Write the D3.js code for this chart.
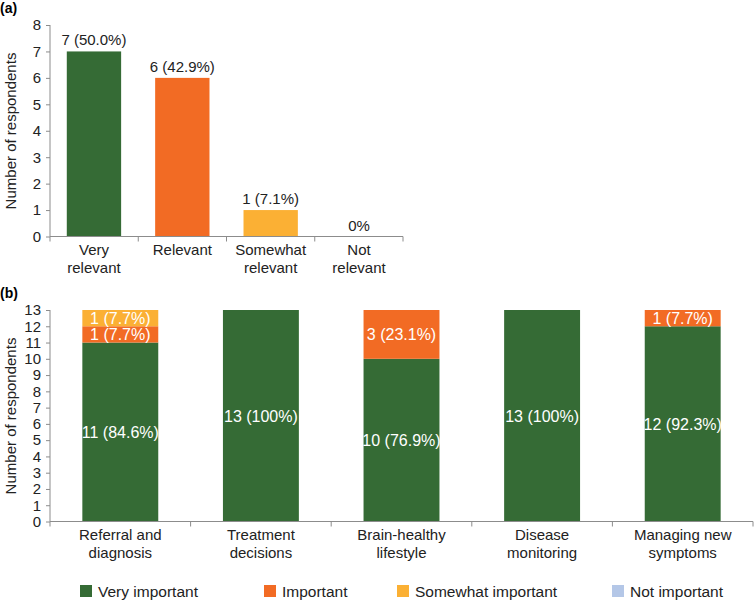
<!DOCTYPE html>
<html>
<head>
<meta charset="utf-8">
<script src="https://cdn.jsdelivr.net/npm/d3@7"></script>
<style>
  body { margin: 0; background: #fff; }
  svg { font-family: "Liberation Sans", Arial, sans-serif; }
  .axis path, .axis line { stroke: #8c8c8c; }
  .axis text { fill: #222; font-size: 15px; }
</style>
</head>
<body>
<div id="chart"></div>
<script>
// Panel (a) data
var relevanceCats = ['Very relevant', 'Relevant', 'Somewhat relevant', 'Not relevant'];
var relevanceVals = [7, 6, 1, 0];
var relevanceLabels = ['7 (50.0%)', '6 (42.9%)', '1 (7.1%)', '0%'];
var relevanceTicks = [0, 1, 2, 3, 4, 5, 6, 7, 8];

// Panel (b) data
var topicCats = ['Referral and diagnosis', 'Treatment decisions', 'Brain-healthy lifestyle',
                 'Disease monitoring', 'Managing new symptoms'];
var importanceKeys = ['Very important', 'Important', 'Somewhat important', 'Not important'];
var veryImportant = [11, 13, 10, 13, 12];
var important = [1, 0, 3, 0, 1];
var somewhatImportant = [1, 0, 0, 0, 0];
var notImportant = [0, 0, 0, 0, 0];
var veryImportantLbl = ['11 (84.6%)', '13 (100%)', '10 (76.9%)', '13 (100%)', '12 (92.3%)'];
var importantLbl = ['1 (7.7%)', '', '3 (23.1%)', '', '1 (7.7%)'];
var somewhatImportantLbl = ['1 (7.7%)', '', '', '', ''];
var notImportantLbl = ['', '', '', '', ''];
var importanceTicks = [0, 1, 2, 3, 4, 5, 6, 7, 8, 9, 10, 11, 12, 13];

var colors = ['#356b35', '#f26b24', '#fbb034', '#b4c7e7'];

var width = 755, height = 600;
var svg = d3.select('#chart').append('svg')
    .attr('width', width).attr('height', height);

function translation(x, y) { return 'translate(' + x + ',' + y + ')'; }

// Split category labels over two lines
function twoLines(text, cat) {
  var words = cat.split(' ');
  var first, second;
  if (words.length === 2) { first = words[0]; second = words[1]; }
  else { first = words.slice(0, 2).join(' '); second = words.slice(2).join(' '); }
  text.text(null).attr('dy', null);
  text.append('tspan').attr('x', 0).attr('dy', '0.72em').text(first);
  text.append('tspan').attr('x', 0).attr('dy', '1.2em').text(second);
}

// Boundary ticks under the x axis
function separators(g, n, x0, x1) {
  var step = (x1 - x0) / n;
  g.selectAll('.sep').data(d3.range(n + 1)).enter().append('line')
    .attr('class', 'sep')
    .attr('x1', function(i) { return x0 + i * step; })
    .attr('x2', function(i) { return x0 + i * step; })
    .attr('y1', 0).attr('y2', 5);
}

// ---- Panel (a) ----
var a = svg.append('g');
var aX = d3.scaleBand().domain(relevanceCats).range([50, 403]).paddingInner(0.385).paddingOuter(0.19);
var aY = d3.scaleLinear().domain([0, 8]).range([236.5, 25]);

a.append('text').attr('x', 0).attr('y', 13).attr('font-weight', 'bold')
  .attr('font-size', 14).text('(a)');

a.append('g').attr('class', 'axis').attr('transform', translation(50, 0))
  .call(d3.axisLeft(aY).tickValues(relevanceTicks).tickSize(4).tickPadding(5))
  .call(function(g) { g.select('.domain').attr('d', 'M0,25V236.5'); });

a.selectAll('.bar-a').data(relevanceVals).enter().append('rect')
  .attr('class', 'bar-a')
  .attr('x', function(d, i) { return aX(relevanceCats[i]); })
  .attr('y', function(d) { return aY(d); })
  .attr('width', aX.bandwidth())
  .attr('height', function(d) { return aY(0) - aY(d); })
  .attr('fill', function(d, i) { return colors[i]; });

a.selectAll('.lbl-a').data(relevanceVals).enter().append('text')
  .attr('x', function(d, i) { return aX(relevanceCats[i]) + aX.bandwidth() / 2; })
  .attr('y', function(d) { return aY(d) - 6; })
  .attr('text-anchor', 'middle').attr('font-size', 15).attr('fill', '#222')
  .text(function(d, i) { return relevanceLabels[i]; });

var aXAxis = a.append('g').attr('class', 'axis').attr('transform', translation(0, 236.5))
  .call(d3.axisBottom(aX).tickSize(0).tickPadding(8));
aXAxis.select('.domain').attr('d', 'M50,0H403');
aXAxis.selectAll('.tick text').each(function(d) { d3.select(this).call(twoLines, d); });
separators(aXAxis, relevanceCats.length, 50, 403);

a.append('text').attr('transform', 'translate(16,131) rotate(-90)')
  .attr('text-anchor', 'middle').attr('font-size', 15).attr('fill', '#222')
  .text('Number of respondents');

// ---- Panel (b) ----
var b = svg.append('g');
var bX = d3.scaleBand().domain(topicCats).range([50, 753]).paddingInner(0.46).paddingOuter(0.23);
var bY = d3.scaleLinear().domain([0, 13]).range([521.5, 310]);

b.append('text').attr('x', 0).attr('y', 298).attr('font-weight', 'bold')
  .attr('font-size', 14).text('(b)');

b.append('g').attr('class', 'axis').attr('transform', translation(50, 0))
  .call(d3.axisLeft(bY).tickValues(importanceTicks).tickSize(4).tickPadding(5))
  .call(function(g) { g.select('.domain').attr('d', 'M0,310V521.5'); });

var rows = topicCats.map(function(c, i) {
  return { cat: c, 'Very important': veryImportant[i], 'Important': important[i],
           'Somewhat important': somewhatImportant[i], 'Not important': notImportant[i],
           labels: [veryImportantLbl[i], importantLbl[i], somewhatImportantLbl[i], notImportantLbl[i]] };
});
var stacked = d3.stack().keys(importanceKeys)(rows);

var layers = b.selectAll('.layer').data(stacked).enter().append('g')
  .attr('fill', function(d, i) { return colors[i]; });

layers.selectAll('rect').data(function(d) { return d; }).enter().append('rect')
  .attr('x', function(d) { return bX(d.data.cat); })
  .attr('y', function(d) { return bY(d[1]); })
  .attr('width', bX.bandwidth())
  .attr('height', function(d) { return bY(d[0]) - bY(d[1]); });

layers.each(function(layer, li) {
  d3.select(this).selectAll('text').data(layer).enter().append('text')
    .attr('x', function(d) { return bX(d.data.cat) + bX.bandwidth() / 2; })
    .attr('y', function(d) { return bY((d[0] + d[1]) / 2); })
    .attr('dy', '0.36em')
    .attr('text-anchor', 'middle').attr('font-size', 16).attr('fill', '#fff')
    .text(function(d) { return d.data.labels[li]; });
});

var bXAxis = b.append('g').attr('class', 'axis').attr('transform', translation(0, 521.5))
  .call(d3.axisBottom(bX).tickSize(0).tickPadding(8));
bXAxis.select('.domain').attr('d', 'M50,0H753');
bXAxis.selectAll('.tick text').each(function(d) { d3.select(this).call(twoLines, d); });
separators(bXAxis, topicCats.length, 50, 753);

b.append('text').attr('transform', 'translate(16,416) rotate(-90)')
  .attr('text-anchor', 'middle').attr('font-size', 15).attr('fill', '#222')
  .text('Number of respondents');

// Legend
var legendX = [80, 264, 397, 612];
var legend = svg.selectAll('.legend').data(importanceKeys).enter().append('g')
  .attr('transform', function(d, i) { return translation(legendX[i], 585); });
legend.append('rect').attr('width', 12).attr('height', 12)
  .attr('fill', function(d, i) { return colors[i]; });
legend.append('text').attr('x', 18).attr('y', 12).attr('font-size', 15.5).attr('fill', '#222')
  .text(function(d) { return d; });
</script>
</body>
</html>
